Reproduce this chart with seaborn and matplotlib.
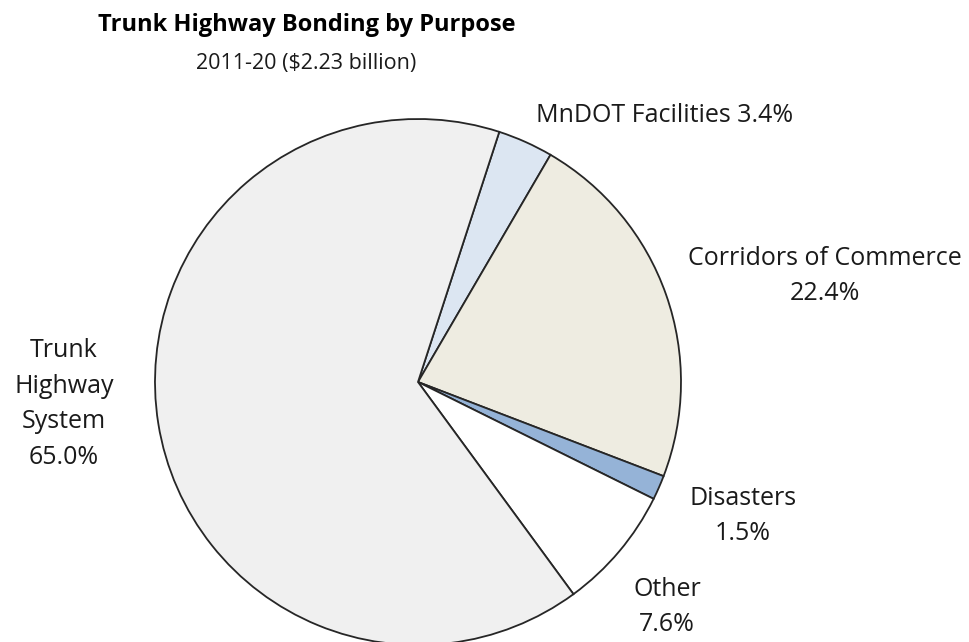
import numpy as np
import seaborn as sns
import matplotlib
matplotlib.use("Agg")
import matplotlib.pyplot as plt

# data, clockwise from the top
purposes = ["MnDOT Facilities", "Corridors of Commerce", "Disasters", "Other", "Trunk Highway System"]
shares = [3.4, 22.4, 1.5, 7.6, 65.0]
label_texts = ["MnDOT Facilities 3.4%", "Corridors of Commerce\n22.4%", "Disasters\n1.5%",
               "Other\n7.6%", "Trunk\nHighway\nSystem\n65.0%"]
slice_colors = ["#DCE6F2", "#EEECE1", "#95B3D7", "#FFFFFF", "#F0F0F0"]

title = "Trunk Highway Bonding by Purpose"
subtitle = "2011-20 ($2.23 billion)"

W, H = 969, 642
cx, cy, r = 418, 382, 263  # pie centre and radius, pixels

# label centres in pixels (from top-left)
label_px = [(665, 116), (825, 276), (743, 516), (667, 607), (64, 404)]

sns.set_theme(style="white")
plt.rcParams["font.family"] = ["Open Sans", "DejaVu Sans"]

fig = plt.figure(figsize=(W / 100, H / 100), dpi=100)
ax = fig.add_axes([0, 0, 1, 1])

ax.pie(shares, colors=slice_colors, startangle=72, counterclock=False,
       radius=1, wedgeprops=dict(edgecolor="#262626", linewidth=1.3), frame=False)
ax.set_xlim(-cx / r, (W - cx) / r)
ax.set_ylim(-(H - cy) / r, cy / r)
ax.set_aspect("equal")
ax.axis("off")

for txt, (px, py) in zip(label_texts, label_px):
    ax.text((px - cx) / r, (cy - py) / r, txt, ha="center", va="center",
            fontsize=18, color="#1a1a1a", linespacing=1.55)

fig.text(307 / W, 1 - 25 / H, title, ha="center", va="center", fontsize=17,
         fontweight="bold", color="black")
fig.text(306 / W, 1 - 64 / H, subtitle, ha="center", va="center", fontsize=15.5,
         color="#1a1a1a")

fig.savefig("out.png", dpi=100)
